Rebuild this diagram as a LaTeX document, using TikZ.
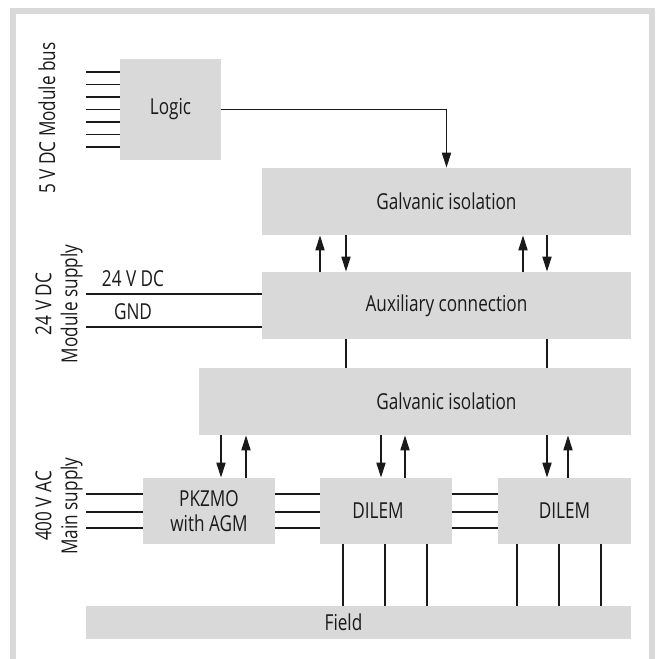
\documentclass[tikz,border=0pt]{standalone}
\usepackage{fontspec}
\setmainfont[FakeStretch=0.78]{Open Sans}
\usetikzlibrary{arrows.meta}
\definecolor{boxgray}{HTML}{D9D9D9}
\definecolor{ink}{HTML}{1A1A1A}
\begin{document}
\begin{tikzpicture}[x=0.5pt,y=-0.5pt,
  box/.style={fill=boxgray, draw=none, inner sep=0pt, text=ink, align=center, font=\fontsize{11}{12.5}\selectfont},
  lbl/.style={inner sep=0pt, text=ink, align=center, font=\fontsize{11}{13}\selectfont},
  wire/.style={line width=0.65pt, draw=ink},
  arr/.style={wire, -{Triangle[length=7.5pt,width=4.6pt]}},
  ]
\useasboundingbox (0,0) rectangle (660,659);
% frame
\fill[boxgray] (10,8) rectangle (16,659);
\fill[boxgray] (10,8) rectangle (655,14);
\fill[boxgray] (649,8) rectangle (655,659);
% boxes
\node[box, minimum width=50.5pt, minimum height=50.5pt] (logic) at (170.5,109.5) {Logic};
\node[box, minimum width=184.5pt, minimum height=33.5pt] (gi1) at (446.5,201.5) {Galvanic isolation};
\node[box, minimum width=184.5pt, minimum height=33.5pt] (aux) at (446.5,305.5) {Auxiliary connection};
\node[box, minimum width=216pt, minimum height=33.5pt] (gi2) at (415,401.5) {};
\node[lbl] (gi2t) at (446.5,401.5) {Galvanic isolation};
\node[box, minimum width=66pt, minimum height=33pt] (pk) at (209,511) {PKZMO\\with AGM};
\node[box, minimum width=66pt, minimum height=33pt] (d1) at (386,511) {};
\node[lbl] (d1t) at (378,511) {DILEM};
\node[box, minimum width=66.5pt, minimum height=33pt] (d2) at (564.5,511) {DILEM};
\node[box, minimum width=272.5pt, minimum height=16.5pt] (field) at (358.5,622.5) {};
\node[lbl] (fieldt) at (343.5,622.5) {Field};
% side labels
\node[lbl, rotate=90] (busl) at (47,118) {5 V DC Module bus};
\node[lbl, rotate=90] (supl) at (59,304) {24 V DC\\Module supply};
\node[lbl, rotate=90] (mainl) at (59,506) {400 V AC\\Main supply};
\node[lbl] (v24t) at (133,279) {24 V DC};
\node[lbl] (gndt) at (133,312) {GND};
% module bus
\foreach \i in {0,...,6} {
  \coordinate (b\i) at (86,{72+12.5*\i});
  \draw[wire] (b\i) -- (b\i -| logic.west);
}
\draw[arr] (logic.east) -| (gi1.north);
% module supply
\coordinate (v24) at (86,294);
\coordinate (gnd) at (86,327);
\draw[wire] (v24) -- (v24 -| aux.west);
\draw[wire] (gnd) -- (gnd -| aux.west);
% gi1 <-> aux
\draw[arr] (aux.north -| 320,0) -- (gi1.south -| 320,0);
\draw[arr] (gi1.south -| 346,0) -- (aux.north -| 346,0);
\draw[arr] (aux.north -| 523,0) -- (gi1.south -| 523,0);
\draw[arr] (gi1.south -| 547,0) -- (aux.north -| 547,0);
% aux - gi2
\draw[wire] (aux.south -| 346,0) -- (gi2.north -| 346,0);
\draw[wire] (aux.south -| 547,0) -- (gi2.north -| 547,0);
% gi2 <-> devices
\draw[arr] (gi2.south -| 221,0) -- (pk.north -| 221,0);
\draw[arr] (pk.north -| 246,0) -- (gi2.south -| 246,0);
\draw[arr] (gi2.south -| 381,0) -- (d1.north -| 381,0);
\draw[arr] (d1.north -| 405,0) -- (gi2.south -| 405,0);
\draw[arr] (gi2.south -| 547,0) -- (d2.north -| 547,0);
\draw[arr] (d2.north -| 568,0) -- (gi2.south -| 568,0);
% main supply
\foreach \y [count=\k] in {494,512,528} {
  \coordinate (m\k) at (86,\y);
  \draw[wire] (m\k) -- (m\k -| pk.west);
  \draw[wire] (pk.east |- m\k) -- (d1.west |- m\k);
  \draw[wire] (d1.east |- m\k) -- (d2.west |- m\k);
}
% field
\foreach \x in {343,385,427} { \draw[wire] (d1.south -| \x,0) -- (field.north -| \x,0); }
\foreach \x in {517,559,601} { \draw[wire] (d2.south -| \x,0) -- (field.north -| \x,0); }
\end{tikzpicture}
\end{document}
